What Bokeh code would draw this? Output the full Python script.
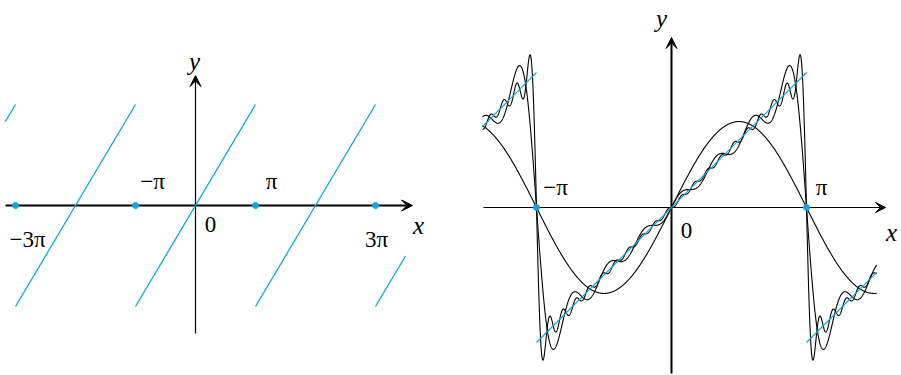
import numpy as np
from bokeh.plotting import figure
from bokeh.layouts import row
from bokeh.models import Arrow, VeeHead, Label
from bokeh.embed import file_html
from bokeh.resources import INLINE

PI = np.pi
CYAN = "#17a3d8"
FONT = "Liberation Serif"

# ---- left panel: the 2π-periodic extension of f(x) = x ----
left_domain = [-3.17 * PI, 3.5 * PI]
left_jumps = [-3 * PI, -PI, PI, 3 * PI]           # discontinuities (value 0 there)
left_tick_labels = ["\u22123\u03c0", "\u2212\u03c0", "\u03c0", "3\u03c0"]

# ---- right panel: Fourier partial sums of x on (-π, π) ----
right_domain = [-1.4 * PI, 1.52 * PI]
right_jumps = [-PI, PI]
right_tick_labels = ["\u2212\u03c0", "\u03c0"]
harmonics = [1, 7, 20]                             # number of terms in each partial sum


def periodic_pieces(lo, hi, jumps):
    """Split [lo, hi] at the jump points and return each linear piece of x - 2πk."""
    edges = [lo] + [j for j in jumps if lo < j < hi] + [hi]
    xs, ys = [], []
    for a, b in zip(edges[:-1], edges[1:]):
        mid = 0.5 * (a + b)
        shift = 2 * PI * np.round(mid / (2 * PI))
        xs.append([a, b])
        ys.append([a - shift, b - shift])
    return xs, ys


def partial_sum(x, n_terms):
    n = np.arange(1, n_terms + 1)[:, None]
    return (2 * ((-1.0) ** (n + 1)) * np.sin(n * x) / n).sum(axis=0)


def make_fig(w, h, xr, yr):
    p = figure(width=w, height=h, x_range=xr, y_range=yr,
               x_axis_type=None, y_axis_type=None,
               output_backend="svg", toolbar_location=None,
               min_border=0, outline_line_color=None,
               background_fill_color="white", border_fill_color="white")
    return p


def label(p, x, y, txt, dx, dy, italic=False, size="23px"):
    # dx, dy: screen offsets in pixels, dy measured downwards
    p.add_layout(Label(x=x, y=y, text=txt, x_offset=dx, y_offset=-dy,
                       text_font=FONT, text_font_size=size,
                       text_font_style="italic" if italic else "normal",
                       text_align="center", text_baseline="middle",
                       text_color="black"))


def axis_arrow(p, x0, y0, x1, y1, lw, size):
    p.add_layout(Arrow(end=VeeHead(size=size, fill_color="black", line_color="black",
                                   line_width=1),
                       x_start=x0, y_start=y0, x_end=x1, y_end=y1,
                       line_color="black", line_width=lw, level="underlay"))


# ================= left figure =================
sx_l, sy_l = PI / 60.0, PI / 101.0      # data units per pixel
p1 = make_fig(450, 375, (-195 * sx_l, 255 * sx_l), (-170 * sy_l, 205 * sy_l))

axis_arrow(p1, -190 * sx_l, 0, 217 * sx_l, 0, 2.2, 11)
axis_arrow(p1, 0, -128 * sy_l, 0, 130 * sy_l, 1.2, 11)

xs, ys = periodic_pieces(left_domain[0], left_domain[1], left_jumps)
p1.multi_line(xs=xs, ys=ys, line_color=CYAN, line_width=1.3)
p1.scatter(x=left_jumps, y=[0] * len(left_jumps), size=6,
           fill_color=CYAN, line_color=CYAN, level="overlay")

left_offsets = [(12, 34), (17, -24), (16, -24), (1, 34)]
for xv, txt, (dx, dy) in zip(left_jumps, left_tick_labels, left_offsets):
    label(p1, xv, 0, txt, dx, dy)
label(p1, 0, 0, "0", 15, 19)
label(p1, 217 * sx_l, 0, "x", 6, 20, italic=True, size="25px")
label(p1, 0, 0, "y", -1, -144, italic=True, size="25px")

# ================= right figure =================
s_r = PI / 135.0
p2 = make_fig(451, 375, (-221 * s_r, 230 * s_r), (-168 * s_r, 207 * s_r))

axis_arrow(p2, -188 * s_r, 0, 214 * s_r, 0, 1.2, 10)
axis_arrow(p2, 0, -166 * s_r, 0, 170 * s_r, 2.0, 11)

x = np.linspace(right_domain[0], right_domain[1], 3000)
for n_terms in harmonics:
    p2.line(x, partial_sum(x, n_terms), line_color="black", line_width=1.1)

xs, ys = periodic_pieces(right_domain[0], right_domain[1], right_jumps)
p2.multi_line(xs=xs, ys=ys, line_color=CYAN, line_width=1.2)
p2.scatter(x=right_jumps, y=[0] * len(right_jumps), size=6,
           fill_color=CYAN, line_color=CYAN, level="overlay")

for xv, txt, dx in zip(right_jumps, right_tick_labels, [19, 15]):
    label(p2, xv, 0, txt, dx, -20)
label(p2, 0, 0, "0", 15, 23)
label(p2, 214 * s_r, 0, "x", 6, 25, italic=True, size="25px")
label(p2, 0, 0, "y", -10, -189, italic=True, size="25px")

layout = row(p1, p2, spacing=0)
open("out.html", "w").write(file_html(layout, INLINE))
